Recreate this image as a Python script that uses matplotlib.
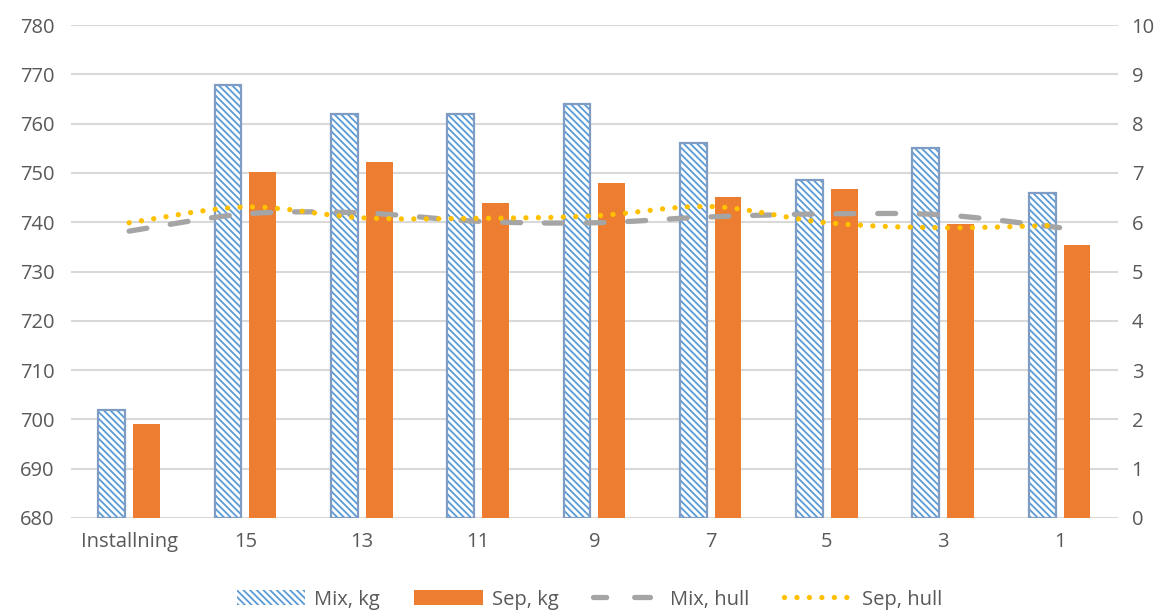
import numpy as np
import matplotlib
matplotlib.use('Agg')
import matplotlib.pyplot as plt
from matplotlib.path import Path
from matplotlib.patches import PathPatch, Patch
from matplotlib.lines import Line2D

categories = ['Installning', '15', '13', '11', '9', '7', '5', '3', '1']
mix_kg = [702, 767.8, 762, 762, 764, 756, 748.5, 755, 746]
sep_kg = [699, 750.2, 752.2, 744, 748, 745.2, 746.7, 739.6, 735.4]
mix_hull = [5.82, 6.17, 6.19, 6.02, 5.99, 6.11, 6.17, 6.15, 5.89]
sep_hull = [5.99, 6.31, 6.09, 6.08, 6.13, 6.32, 5.99, 5.89, 5.94]

plt.rcParams['font.family'] = ['Open Sans', 'DejaVu Sans']
plt.rcParams['hatch.linewidth'] = 1.3
txt = '#595959'
fs = 14.5


def smooth_path(xs, ys):
    # excel-like smoothed line as cubic bezier segments
    pts = np.column_stack([xs, ys]).astype(float)
    n = len(pts)
    verts = [pts[0]]
    codes = [Path.MOVETO]
    for i in range(n - 1):
        p0 = pts[max(i - 1, 0)]
        p1 = pts[i]
        p2 = pts[i + 1]
        p3 = pts[min(i + 2, n - 1)]
        c1 = p1 + (p2 - p0) / 6
        c2 = p2 - (p3 - p1) / 6
        verts += [c1, c2, p2]
        codes += [Path.CURVE4] * 3
    return Path(verts, codes)


fig = plt.figure(figsize=(11.67, 6.13), dpi=100)
ax = fig.add_axes([0.0608, 0.155, 0.897, 0.804])
ax2 = ax.twinx()

x = np.arange(len(categories))
w = 0.23
off = 0.15
hatch = '\\' * 5
ax.bar(x - off, np.array(mix_kg) - 680, w, bottom=680, color='white',
       edgecolor='#5B9BD5', hatch=hatch, linewidth=0, zorder=2)
ax.bar(x - off, np.array(mix_kg) - 680, w, bottom=680, fill=False,
       edgecolor='#7F9CC4', linewidth=1.6, zorder=3)
ax.bar(x + off, np.array(sep_kg) - 680, w, bottom=680, color='#ED7D31',
       zorder=3)

ax.set_ylim(680, 780)
ax.set_yticks(np.arange(680, 781, 10))
ax.set_xlim(-0.5, len(categories) - 0.5)
ax.set_xticks(x)
ax.set_xticklabels(categories)
ax.grid(axis='y', color='#D9D9D9', linewidth=1.5, zorder=0)
ax.set_axisbelow(True)

ax2.set_ylim(0, 10)
ax2.set_yticks(np.arange(0, 11, 1))

mp = PathPatch(smooth_path(x, mix_hull), fill=False, edgecolor='#A5A5A5',
               linewidth=3.8, linestyle=(0, (3.4, 4.5)), capstyle='round',
               zorder=4)
sp = PathPatch(smooth_path(x, sep_hull), fill=False, edgecolor='#FFC000',
               linewidth=3.8, linestyle=(0, (0.01, 2.35)), capstyle='round',
               zorder=5)
ax2.add_patch(mp)
ax2.add_patch(sp)

for a in (ax, ax2):
    for s in a.spines.values():
        s.set_visible(False)
    a.tick_params(length=0, labelsize=fs, colors=txt)
ax.tick_params(axis='y', pad=12)
ax.tick_params(axis='x', pad=10)
ax2.tick_params(axis='y', pad=10)

handles = [
    Patch(facecolor='white', edgecolor='#5B9BD5', hatch=hatch, linewidth=0),
    Patch(facecolor='#ED7D31'),
    Line2D([], [], color='#A5A5A5', lw=3.8, ls=(0.5, (3.0, 5.3)), dash_capstyle='round'),
    Line2D([], [], color='#FFC000', lw=3.8, ls=(0, (0.01, 2.35)), dash_capstyle='round'),
]
fig.legend(handles, ['Mix, kg', 'Sep, kg', 'Mix, hull', 'Sep, hull'],
           loc='center', bbox_to_anchor=(0.505, 0.022), ncol=4, frameon=False,
           fontsize=fs, labelcolor=txt, handlelength=3.4, columnspacing=1.7,
           handletextpad=0.45)

fig.savefig('out.png', dpi=100)
